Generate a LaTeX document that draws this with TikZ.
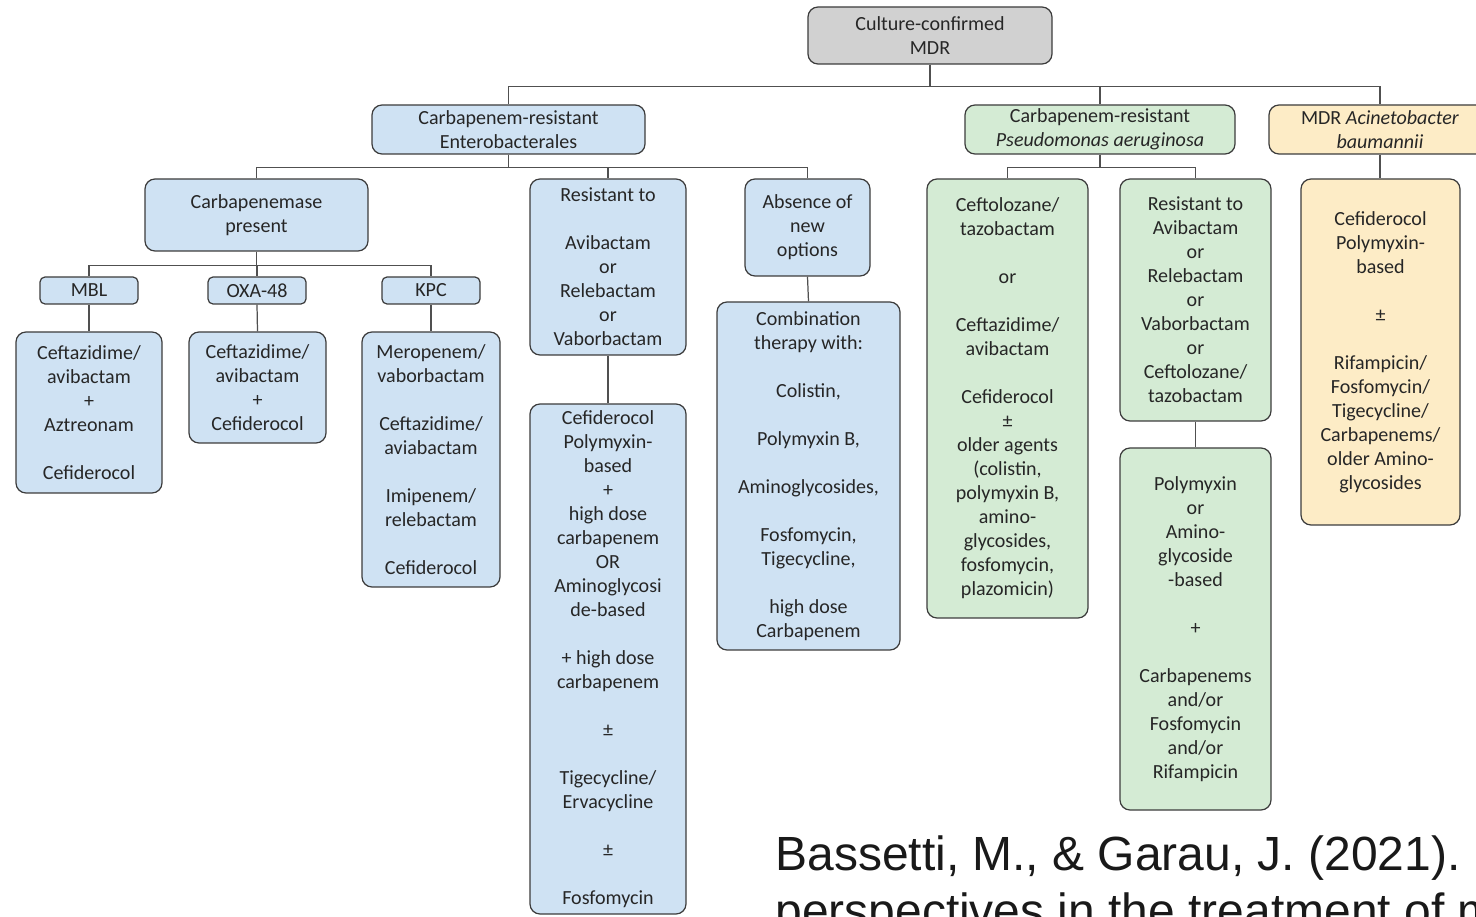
\documentclass[tikz,border=0pt]{standalone}
\usepackage{fontspec}
\setmainfont{Carlito}
\newfontfamily\citefont{Liberation Sans}
\usepackage{xcolor}
\usepackage{tikz}
\definecolor{BoxInk}{HTML}{3C3C3C}
\definecolor{LinkInk}{HTML}{505050}
\definecolor{RootFill}{HTML}{D1D1D1}
\definecolor{CREFill}{HTML}{CFE2F3}
\definecolor{PAFill}{HTML}{D4EBD4}
\definecolor{ABFill}{HTML}{FDECC6}
\newcommand{\Blank}{\\[\baselineskip]}
\tikzset{
  figure/.style={font=\fontsize{11.4}{13.66}\selectfont,text=black!85},
  panel/.style={draw=BoxInk,line width=0.7pt,rounded corners=2mm,align=center,inner sep=0pt},
  tag/.style={panel,rounded corners=1mm,minimum width=1.96cm,minimum height=0.54cm},
  rootbox/.style={panel,fill=RootFill},
  crebox/.style={panel,fill=CREFill},
  pabox/.style={panel,fill=PAFill},
  abbox/.style={panel,fill=ABFill},
  link/.style={draw=LinkInk,line width=0.7pt},
  citation/.style={font=\citefont\fontsize{27.3}{32}\selectfont,text=black!90,inner sep=0pt},
}
\begin{document}
\begin{tikzpicture}[figure]
  \useasboundingbox (0,0) rectangle (29.52,18.32);
  \clip (0,0) rectangle (29.52,18.32);

  % top level
  \node[rootbox,minimum width=4.88cm,minimum height=1.14cm] (root) at (18.6,17.61)
    {Culture-confirmed\\MDR};
  \node[crebox,minimum width=5.46cm,minimum height=0.98cm] (cre) at (10.17,15.73)
    {Carbapenem-resistant\\Enterobacterales};
  \node[pabox,minimum width=5.4cm,minimum height=0.98cm] (crpa) at (22.0,15.73)
    {Carbapenem-resistant\\\textit{Pseudomonas aeruginosa}};
  \node[abbox,minimum width=4.44cm,minimum height=0.98cm] (ab) at (27.6,15.73)
    {MDR \textit{Acinetobacter}\\\textit{baumannii}};

  % Enterobacterales
  \node[crebox,minimum width=4.46cm,minimum height=1.44cm] (cpm) at (5.13,14.02)
    {Carbapenemase\\present};
  \node[crebox,minimum width=3.12cm,minimum height=3.52cm] (creRes) at (12.16,12.98)
    {Resistant to\Blank Avibactam\\or\\Relebactam\\or\\Vaborbactam};
  \node[crebox,minimum width=2.5cm,minimum height=1.94cm] (absence) at (16.15,13.77)
    {Absence of\\new\\options};

  \node[tag,fill=CREFill] (mbl) at (1.78,12.51) {MBL};
  \node[tag,fill=CREFill] (oxa) at (5.14,12.51) {OXA-48};
  \node[tag,fill=CREFill] (kpc) at (8.62,12.51) {KPC};

  \node[crebox,minimum width=2.92cm,minimum height=3.22cm] (mblDrug) at (1.78,10.07)
    {Ceftazidime/\\avibactam\\+\\Aztreonam\Blank Cefiderocol};
  \node[crebox,minimum width=2.74cm,minimum height=2.22cm] (oxaDrug) at (5.15,10.57)
    {Ceftazidime/\\avibactam\\+\\Cefiderocol};
  \node[crebox,minimum width=2.76cm,minimum height=5.1cm] (kpcDrug) at (8.62,9.13)
    {Meropenem/\\vaborbactam\Blank Ceftazidime/\\aviabactam\Blank Imipenem/\\relebactam\Blank Cefiderocol};

  \node[crebox,minimum width=3.12cm,minimum height=10.2cm] (creRegimen) at (12.16,5.14)
    {Cefiderocol\\Polymyxin-\\based\\+\\high dose\\carbapenem\\OR\\Aminoglycosi\\de-based\Blank
     + high dose\\carbapenem\Blank ±\Blank Tigecycline/\\Ervacycline\Blank ±\Blank Fosfomycin};
  \node[crebox,minimum width=3.66cm,minimum height=6.96cm] (combo) at (16.17,8.8)
    {Combination\\therapy with:\Blank Colistin,\Blank Polymyxin B,\Blank Aminoglycosides,\Blank
     Fosfomycin,\\Tigecycline,\Blank high dose\\Carbapenem};

  % Pseudomonas
  \node[pabox,minimum width=3.22cm,minimum height=8.78cm] (paFirst) at (20.15,10.35)
    {Ceftolozane/\\tazobactam\Blank or\Blank Ceftazidime/\\avibactam\Blank Cefiderocol\\±\\older agents\\
     (colistin,\\polymyxin B,\\amino-\\glycosides,\\fosfomycin,\\plazomicin)};
  \node[pabox,minimum width=3.02cm,minimum height=4.84cm] (paRes) at (23.91,12.32)
    {Resistant to\\Avibactam\\or\\Relebactam\\or\\Vaborbactam\\or\\Ceftolozane/\\tazobactam};
  \node[pabox,minimum width=3.02cm,minimum height=7.24cm] (paRegimen) at (23.91,5.74)
    {Polymyxin\\or\\Amino-\\glycoside\\-based\Blank +\Blank Carbapenems\\and/or\\Fosfomycin\\and/or\\Rifampicin};

  % Acinetobacter
  \node[abbox,minimum width=3.18cm,minimum height=6.92cm] (abDrug) at (27.61,11.28)
    {Cefiderocol\\Polymyxin-\\based\Blank ±\Blank Rifampicin/\\Fosfomycin/\\Tigecycline/\\Carbapenems/\\
     older Amino-\\glycosides};

  % connectors
  \draw[link] (root.south) -- ++(0,-0.44) -| (cre.north);
  \draw[link] (root.south) -- ++(0,-0.44) -| (crpa.north);
  \draw[link] (root.south) -- ++(0,-0.44) -| (ab.north);
  \draw[link] (cre.south) -- ++(0,-0.26) -| (cpm.north);
  \draw[link] (cre.south) -- ++(0,-0.26) -| (creRes.north);
  \draw[link] (cre.south) -- ++(0,-0.26) -| (absence.north);
  \draw[link] (cpm.south) -- ++(0,-0.28) -| (mbl.north);
  \draw[link] (cpm.south) -- ++(0,-0.28) -| (oxa.north);
  \draw[link] (cpm.south) -- ++(0,-0.28) -| (kpc.north);
  \draw[link] (mbl.south) -- (mblDrug.north);
  \draw[link] (oxa.south) -- (oxaDrug.north);
  \draw[link] (kpc.south) -- (kpcDrug.north);
  \draw[link] (creRes.south) -- (creRegimen.north);
  \draw[link] (absence.south) -- (combo.north);
  \draw[link] (crpa.south) -- ++(0,-0.26) -| (paFirst.north);
  \draw[link] (crpa.south) -- ++(0,-0.26) -| (paRes.north);
  \draw[link] (paRes.south) -- (paRegimen.north);
  \draw[link] (ab.south) -- (ab.south |- abDrug.north);

  % reference
  \node[citation,anchor=base west] (citeA) at (15.5,0.92)
    {Bassetti, M., \& Garau, J. (2021). Current and future};
  \node[citation,anchor=base west] (citeB) at (15.5,-0.22)
    {perspectives in the treatment of multidrug-resistant};
\end{tikzpicture}
\end{document}
